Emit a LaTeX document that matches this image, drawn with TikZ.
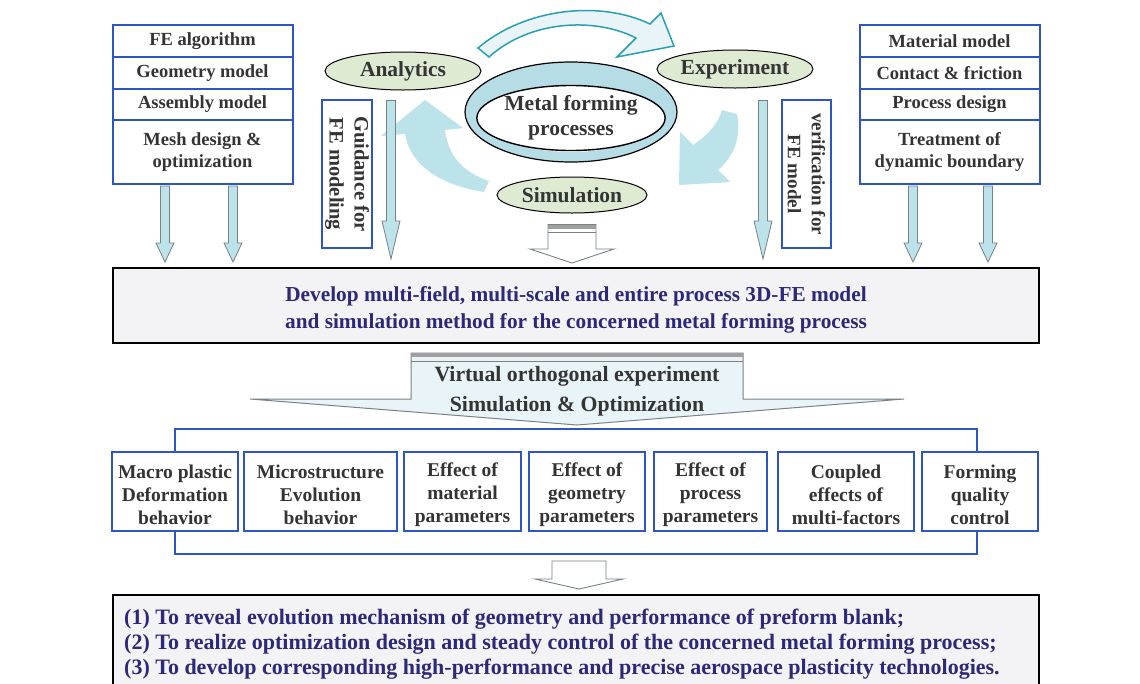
\documentclass[tikz,border=0pt]{standalone}
\usepackage{fontspec}
\setmainfont{Liberation Serif}
\usetikzlibrary{calc,shapes.geometric}
\definecolor{bxblue}{RGB}{45,85,195}
\definecolor{txgray}{RGB}{52,52,52}
\definecolor{txnavy}{RGB}{45,40,120}
\definecolor{ellgreen}{RGB}{222,234,210}
\definecolor{arrblue}{RGB}{188,226,234}
\definecolor{arrline}{RGB}{120,130,135}
\definecolor{ringblue}{RGB}{182,220,230}
\definecolor{arrteal}{RGB}{40,160,178}
\definecolor{paleblue}{RGB}{232,244,248}
\definecolor{boxgray}{RGB}{243,243,245}
\newcommand\factnode[4]{%
  \node[factbox, minimum width=#2pt] (#1) at (#3,491.5) {};
  \node[facttext] (#1t) at ([yshift=-3.5pt]#1.center) {#4};}
\begin{document}
\begin{tikzpicture}[x=1pt,y=-1pt,
  stackrow/.style={draw=bxblue, line width=2pt, fill=white, minimum width=180pt,
    inner sep=0pt, outer sep=0pt, text=txgray, align=center,
    font=\bfseries\fontsize{18.5}{22}\selectfont},
  ellnode/.style={ellipse, draw=black, line width=1pt, fill=ellgreen, inner sep=0pt,
    minimum width=156pt, minimum height=38pt, text=txgray,
    font=\bfseries\fontsize{21.5}{24}\selectfont},
  sidebox/.style={draw=bxblue, line width=2pt, fill=white, inner sep=0pt, rotate=-90,
    minimum width=148pt, align=center, text=txgray},
  factbox/.style={draw=bxblue, line width=2pt, fill=white, inner sep=0pt,
    minimum height=79pt},
  facttext/.style={inner sep=0pt, align=center, text=txgray,
    font=\bfseries\fontsize{19.5}{23}\selectfont},
  fatarrow/.style n args={3}{to path={let \p1=(\tikztostart), \p2=(\tikztotarget) in
    (\x1-#1pt,\y1) -- (\x1+#1pt,\y1) -- (\x1+#1pt,\y2+#3pt) -- (\x1+#2pt,\y2+#3pt)
    -- (\x1,\y2) -- (\x1-#2pt,\y2+#3pt) -- (\x1-#1pt,\y2+#3pt) -- cycle}},
  bluearr/.style={draw=arrline, line width=0.8pt, fill=arrblue, line join=miter},
  hollowarr/.style={draw=arrline, line width=0.9pt, fill=white},
]
\useasboundingbox (0,0) rectangle (1140,683);
\fill[white] (0,0) rectangle (1140,683);

% ---------- left stack ----------
\node[stackrow, minimum height=32pt] (ls1) at (202.5,41) {FE algorithm};
\node[stackrow, minimum height=32pt] (ls2) at (202.5,73) {Geometry model};
\node[stackrow, minimum height=31pt] (ls3) at (202.5,104.5) {Assembly model};
\node[stackrow, minimum height=64pt] (ls4) at (202.5,152) {Mesh design \&\\optimization};

% ---------- right stack ----------
\node[stackrow, minimum height=32pt] (rs1) at (949.5,41) {Material model};
\node[stackrow, minimum height=32pt] (rs2) at (949.5,73) {Contact \& friction};
\node[stackrow, minimum height=31pt] (rs3) at (949.5,104.5) {Process design};
\node[stackrow, minimum height=64pt] (rs4) at (949.5,152) {Treatment of\\dynamic boundary};

% ---------- central ring ----------
\fill[ringblue, even odd rule] (571,112) ellipse [x radius=106, y radius=50]
  (571,119.5) ellipse [x radius=84, y radius=32.5];
\draw[line width=1.2pt] (571,112) ellipse [x radius=106, y radius=50];
\node[ellipse, draw=black, line width=1.4pt, fill=white, inner sep=0pt,
  minimum width=168pt, minimum height=65pt, align=center, text=txgray,
  font=\bfseries\fontsize{21.5}{25}\selectfont] (mfp) at (571,118) {Metal forming\\processes};

% ---------- ellipses ----------
\node[ellnode] (ana) at (403,71) {Analytics};
\node[ellnode] (exp) at (735,69) {Experiment};
\node[ellnode, minimum width=150pt, minimum height=36pt] (sim) at (572,195) {Simulation};

% ---------- curved arrows ----------
\draw[arrteal, line width=1.5pt, fill=paleblue, line join=miter]
  (478,48) .. controls (525,8) and (600,0) .. (650,24)
  -- (661,13) -- (674,46) -- (617,57) -- (636,38)
  .. controls (595,17) and (530,20) .. (489,57) -- cycle;
\fill[arrblue] (722,110) -- (737,114) .. controls (742,140) and (732,158) .. (718,170)
  -- (730,182) -- (679,185) -- (680,132) -- (693,145)
  .. controls (708,135) and (718,124) .. (722,110) -- cycle;
\fill[arrblue] (405,134) .. controls (410,165) and (440,185) .. (484,192)
  -- (489,181) .. controls (462,172) and (448,155) .. (445,130)
  -- (463,128) -- (425,100) -- (381,136) -- cycle;

% ---------- side boxes ----------
\node[sidebox, minimum height=50pt, font=\bfseries\fontsize{20.5}{25}\selectfont] (guid) at (347,174) {Guidance for\\FE modeling};
\node[sidebox, minimum height=49pt, font=\bfseries\fontsize{19}{24}\selectfont] (verif) at (806.5,174) {verification for\\FE model};

% ---------- main box ----------
\node[draw=black, line width=2pt, fill=boxgray, minimum width=926pt, minimum height=75pt,
  inner sep=0pt] (mainbox) at (576,305.5) {};
\node[align=center, text=txnavy, inner sep=0pt,
  font=\bfseries\fontsize{21.3}{27}\selectfont] (maintext) at (576,310)
  {Develop multi-field, multi-scale and entire process 3D-FE model\\
   and simulation method for the concerned metal forming process};

% ---------- arrows into main box ----------
\path (ls4.south) ++(-37.5,2) coordinate (la1s);
\path (la1s |- mainbox.north) ++(0,-5) coordinate (la1e);
\path (ls4.south) ++(30.5,2) coordinate (la2s);
\path (la2s |- mainbox.north) ++(0,-5) coordinate (la2e);
\path (rs4.south) ++(-36.5,2) coordinate (ra1s);
\path (ra1s |- mainbox.north) ++(0,-5) coordinate (ra1e);
\path (rs4.south) ++(38.5,2) coordinate (ra2s);
\path (ra2s |- mainbox.north) ++(0,-5) coordinate (ra2e);
\draw[bluearr, fatarrow={4.5}{9}{19}] (la1s) to (la1e);
\draw[bluearr, fatarrow={4.5}{9}{19}] (la2s) to (la2e);
\draw[bluearr, fatarrow={4.5}{9}{19}] (ra1s) to (ra1e);
\draw[bluearr, fatarrow={4.5}{9}{19}] (ra2s) to (ra2e);

\path (ana.south) ++(-12,10) coordinate (anas);
\path (anas |- mainbox.north) ++(0,-8) coordinate (anae);
\path (exp.south) ++(28,12) coordinate (exps);
\path (exps |- mainbox.north) ++(0,-8) coordinate (expe);
\draw[bluearr, fatarrow={4.5}{9}{38}] (anas) to (anae);
\draw[bluearr, fatarrow={4.5}{9}{38}] (exps) to (expe);

\path (sim.south) ++(0,11) coordinate (sims);
\path (sims |- mainbox.north) ++(0,-4) coordinate (sime);
\draw[hollowarr, fatarrow={24}{42}{14}] (sims) to (sime);
\fill[gray!75] (548,224.5) rectangle (596,229);
\draw[gray, line width=0.8pt] (548,232) -- (596,232);

% ---------- virtual orthogonal experiment arrow ----------
\path (mainbox.south) ++(1,9) coordinate (vs);
\path (vs) ++(0,72) coordinate (ve);
\draw[draw=arrline, line width=1pt, fill=paleblue, fatarrow={166}{327}{26}] (vs) to (ve);
\fill[gray!75] (411,352.5) rectangle (743,357);
\draw[gray, line width=0.8pt] (411,361) -- (743,361);
\node[text=txgray, font=\bfseries\fontsize{21.8}{24}\selectfont] (voe) at (577,376) {Virtual orthogonal experiment};
\node[text=txgray, font=\bfseries\fontsize{21.8}{24}\selectfont] (sno) at (577,406) {Simulation \& Optimization};

% ---------- bracket and factor boxes ----------
\node[draw=bxblue, line width=2pt, minimum width=802pt, minimum height=125pt, inner sep=0pt] (brk) at (576,491.5) {};
\factnode{f1}{126}{175}{Macro plastic\\Deformation\\behavior}
\factnode{f2}{153}{320.5}{Microstructure\\Evolution\\behavior}
\factnode{f3}{117}{462.5}{Effect of\\material\\parameters}
\factnode{f4}{116}{587}{Effect of\\geometry\\parameters}
\factnode{f5}{113}{710.5}{Effect of\\process\\parameters}
\factnode{f6}{136}{846}{Coupled\\effects of\\multi-factors}
\factnode{f7}{116}{980}{Forming\\quality\\control}

% ---------- lower arrow and goals box ----------
\path (brk.south) ++(3,6) coordinate (ls);
\path (ls) ++(0,28) coordinate (le);
\draw[hollowarr, fatarrow={27}{44}{10}] (ls) to (le);

\node[draw=black, line width=2pt, fill=boxgray, minimum width=926pt, minimum height=105pt,
  inner sep=0pt] (goalbox) at (576,647.5) {};
\node[anchor=west, align=left, text=txnavy, inner sep=0pt,
  font=\bfseries\fontsize{22}{25}\selectfont] (goals) at (124,644.5)
  {(1) To reveal evolution mechanism of geometry and performance of preform blank;\\
   (2) To realize optimization design and steady control of the concerned metal forming process;\\
   (3) To develop corresponding high-performance and precise aerospace plasticity technologies.};
\end{tikzpicture}
\end{document}
